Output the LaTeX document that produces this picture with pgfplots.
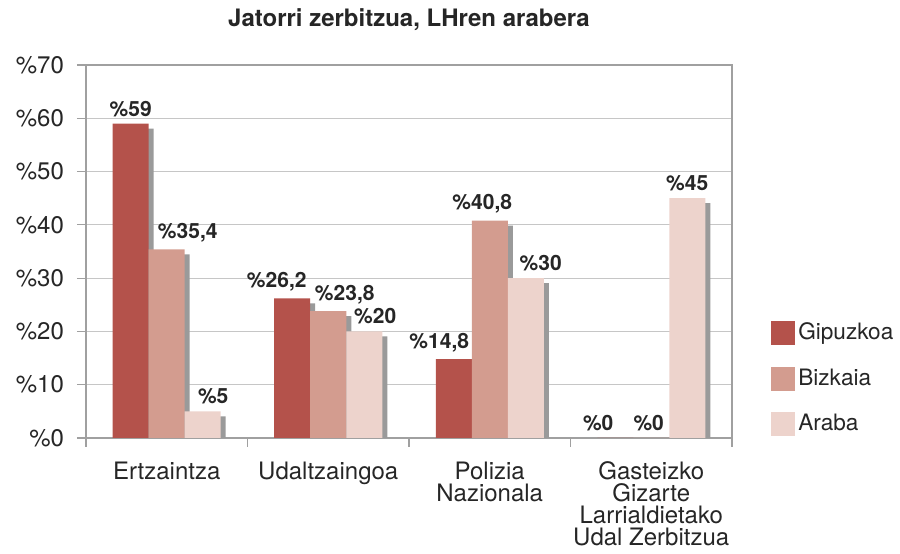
\documentclass[border=0pt]{standalone}
\usepackage{fontspec}
\setmainfont{TeX Gyre Heros}
\usepackage{pgfplots}
\pgfplotsset{compat=1.18}
\definecolor{gipu}{HTML}{B4524B}
\definecolor{bizk}{HTML}{D39C8F}
\definecolor{arab}{HTML}{EDD3CC}
\definecolor{shad}{HTML}{9A9A9A}
\definecolor{gridc}{HTML}{C6C6C6}
\definecolor{axc}{HTML}{A0A0A0}
\definecolor{txt}{HTML}{262626}
\begin{document}
\begin{tikzpicture}
\begin{axis}[name=ax, scale only axis, width=323pt, height=186.5pt,
  ybar, bar width=18pt,
  ymin=0, ymax=70, ytick={0,10,...,70},
  xmin=-0.5, xmax=3.5,
  xtick={0,1,2,3},
  xticklabels={Ertzaintza, Udaltzaingoa, {Polizia\\Nazionala}, {Gasteizko\\Gizarte\\Larrialdietako\\Udal Zerbitzua}},
  minor xtick={-0.5,0.5,1.5,2.5,3.5},
  major x tick style={draw=none},
  minor x tick style={draw=axc, line width=0.6pt},
  ytick style={draw=axc, line width=0.6pt},
  tick align=outside, major tick length=4.5pt, minor tick length=4.5pt,
  tick pos=left,
  ymajorgrids, grid style={draw=gridc, line width=0.6pt},
  axis line style={draw=axc, line width=0.6pt},
  /pgf/number format/.cd, use comma, 1000 sep={}, /pgfplots/.cd,
  yticklabel={\%\pgfmathprintnumber[assume math mode=true]{\tick}},
  yticklabel style={font=\fontsize{12}{14}\selectfont, text=txt, xshift=-3pt},
  xticklabel style={font=\fontsize{12}{11}\selectfont, text=txt, align=center, yshift=-4pt},
  title={Jatorri zerbitzua, LHren arabera},
  title style={font=\bfseries\fontsize{12}{14}\selectfont, text=txt, at={(0.5,1)}, anchor=base, yshift=13.5pt},
  visualization depends on={\thisrow{dx} \as \labdx},
  nodes near coords={\%\pgfmathprintnumber[assume math mode=true]{\pgfplotspointmeta}},
  every node near coord/.append style={font=\bfseries\fontsize{10.5}{12}\selectfont, text=txt, xshift=\labdx pt},
  legend style={at={(1.059,0.16)}, anchor=west, draw=none, fill=none, inner sep=0pt,
    row sep=9pt, font=\fontsize{11.3}{13}\selectfont, text=txt, cells={anchor=west}},
]
\addlegendimage{legend image code/.code={\fill[gipu] (0pt,-5.75pt) rectangle (11.5pt,5.75pt);}}
\addlegendimage{legend image code/.code={\fill[bizk] (0pt,-5.75pt) rectangle (11.5pt,5.75pt);}}
\addlegendimage{legend image code/.code={\fill[arab] (0pt,-5.75pt) rectangle (11.5pt,5.75pt);}}
\addplot[forget plot, bar shift=-18pt, fill=gipu, draw=none,
  preaction={fill=shad, transform canvas={xshift=2.5pt,yshift=-2.5pt}}]
  table[x=x, y=y] {
x y dx
0 59 0
1 26.2 -7.75
2 14.8 -7.25
3 0 -8.5
};
\addplot[forget plot, bar shift=0pt, fill=bizk, draw=none,
  preaction={fill=shad, transform canvas={xshift=2.5pt,yshift=-2.5pt}}]
  table[x=x, y=y] {
x y dx
0 35.4 10.5
1 23.8 8.25
2 40.8 -3.75
3 0 -1.25
};
\addplot[forget plot, bar shift=18pt, fill=arab, draw=none,
  preaction={fill=shad, transform canvas={xshift=2.5pt,yshift=-2.5pt}}]
  table[x=x, y=y] {
x y dx
0 5 5.25
1 20 5.5
2 30 7.5
3 45 0
};
\legend{Gipuzkoa,Bizkaia,Araba}
\end{axis}
\pgfresetboundingbox
\path ([xshift=-43pt,yshift=-58pt]ax.south west) rectangle ([xshift=84pt,yshift=32.5pt]ax.north east);
\end{tikzpicture}
\end{document}
